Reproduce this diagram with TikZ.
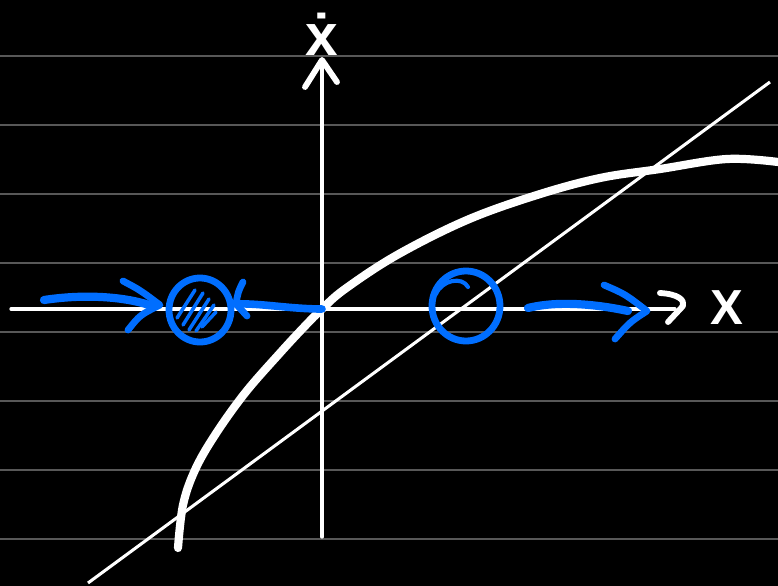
\documentclass[tikz,border=0pt]{standalone}
\usepackage{fontspec}
\newfontfamily\handfont{Liberation Sans}
\usetikzlibrary{calc}
\definecolor{penblue}{RGB}{0,110,255}
\definecolor{ruled}{RGB}{88,88,88}
\tikzset{ruling/.style={ruled,line width=1.1pt},
  chalk/.style={white,line width=2.8pt,line cap=round,line join=round},
  ink/.style={penblue,line width=5.8pt,line cap=round,line join=round},
  hatch/.style={ink,line width=3pt},
  lbl/.style={white,inner sep=0pt,font=\handfont\bfseries\fontsize{42}{42}\selectfont}}

\begin{document}
\begin{tikzpicture}[x=0.03cm,y=-0.03cm]
\fill[black] (0,0) rectangle (778,586);
\useasboundingbox (0,0) rectangle (778,586);
\foreach \y in {56,125,...,539} \draw[ruling] (0,\y)--(778,\y);
% axes
\coordinate (O) at (322,309);
\coordinate (xstart) at (11,309); \coordinate (xend) at (675,309);
\coordinate (ybot) at (322,537); \coordinate (ytop) at (322,62);
\draw[chalk] (xstart)--(xend);
\draw[chalk] (ybot)--(ytop);
\draw[chalk,line width=5pt] (660,293) .. controls (678,294) and (685,300) .. (683,306) -- (668,322);
\draw[chalk,line width=5pt] (305,87)--(322,60)--(337,82);
\node[lbl] (xlab) at (727,308) {X};
\node[lbl,font=\handfont\bfseries\fontsize{50}{50}\selectfont] (xdot) at (322,34) {ẋ};
% line and curve
\coordinate (l1) at (88,583); \coordinate (l2) at (770,82);
\draw[white,line width=2.6pt] (l1)--(l2);
\draw[chalk,line width=7pt] plot[smooth,tension=0.6] coordinates {(178,548) (183,505) (195,470) (215,435) (245,393) (280,353) (305,326) (322,309) (345,289) (397,255) (467,220) (537,195) (600,178) (660,169) (727,159) (778,162)};
% fixed points
\coordinate (stable) at (200,310); \coordinate (unstable) at (466,306);
\draw[ink] (stable) ellipse (31 and 32);
\foreach \xa/\ya/\xb/\yb in {177/318/195/290,183/325/203/293,189/330/209/299,196/331/214/305,202/327/216/312} \draw[hatch] (\xa,\ya)--(\xb,\yb);
\draw[ink] (unstable) ellipse (34 and 35);
\draw[ink,line width=3.5pt] (436,294) .. controls (442,280) and (462,276) .. (468,287);
% flow arrows
\draw[ink,line width=7pt] (44,300) .. controls (90,293) and (130,298) .. (152,306);
\draw[ink] (123,281) .. controls (140,290) .. (160,305) .. controls (140,315) .. (128,330);
\draw[ink,line width=6.5pt] (O) .. controls (290,309) and (260,303) .. (236,304);
\draw[ink] (243,282) .. controls (238,292) .. (236,304) -- (247,316);
\draw[ink,line width=7pt] (528,308) .. controls (560,300) and (600,305) .. (628,311);
\draw[ink] (604,285) .. controls (625,294) .. (647,311) .. controls (630,322) .. (615,339);
\end{tikzpicture}
\end{document}
